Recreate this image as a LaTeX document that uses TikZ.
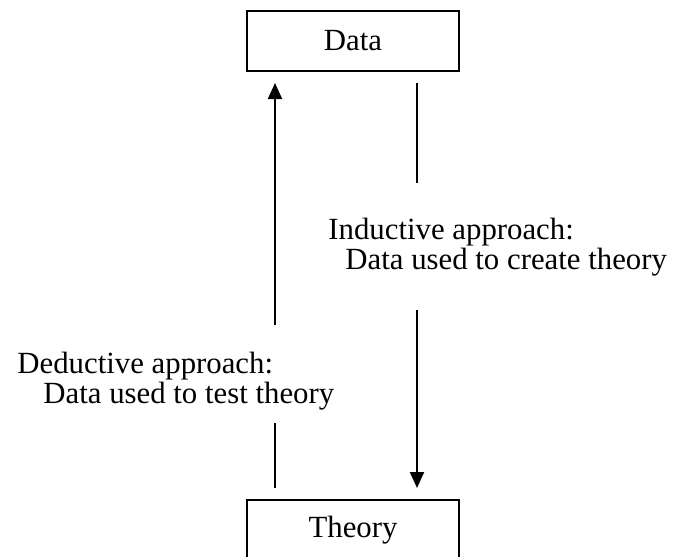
\documentclass[tikz,border=0pt]{standalone}
\usepackage{fontspec}
\setmainfont{Liberation Serif}
\usetikzlibrary{arrows.meta,positioning,calc}
\newcommand{\txtsize}{\fontsize{15.4pt}{14.8pt}\selectfont}
\tikzset{box/.style={draw=black,line width=1pt,minimum width=106pt,minimum height=30pt,inner sep=0pt,font=\txtsize},
  flow/.style={-{Triangle[length=8pt,width=7pt]},line width=1pt,shorten >=5.5pt,shorten <=5.5pt},
  plain/.style={line width=1pt,shorten <=5.5pt},
  labeltext/.style={font=\txtsize,align=left,inner sep=0pt,anchor=north west}}

\begin{document}
\begin{tikzpicture}[x=0.5pt,y=-0.5pt]
\useasboundingbox (0,0) rectangle (678,556);
\node[box] (data) at (353,41) {Data};
\node[box] (theory) at (353,530) {Theory};
\node[labeltext] (induct) at (328,218) {Inductive approach:\\\hspace*{8.5pt}Data used to create theory};
\node[labeltext] (deduct) at (17,352) {Deductive approach:\\\hspace*{13pt}Data used to test theory};
\coordinate (itop) at (417,183);
\coordinate (ibot) at (417,310);
\coordinate (dtop) at (275,325);
\coordinate (dbot) at (275,423);
\draw[plain] (data.south -| itop) -- (itop);
\draw[flow,shorten <=0pt] (ibot) -- (theory.north -| ibot);
\draw[plain] (theory.north -| dbot) -- (dbot);
\draw[flow,shorten <=0pt] (dtop) -- (data.south -| dtop);
\end{tikzpicture}
\end{document}
